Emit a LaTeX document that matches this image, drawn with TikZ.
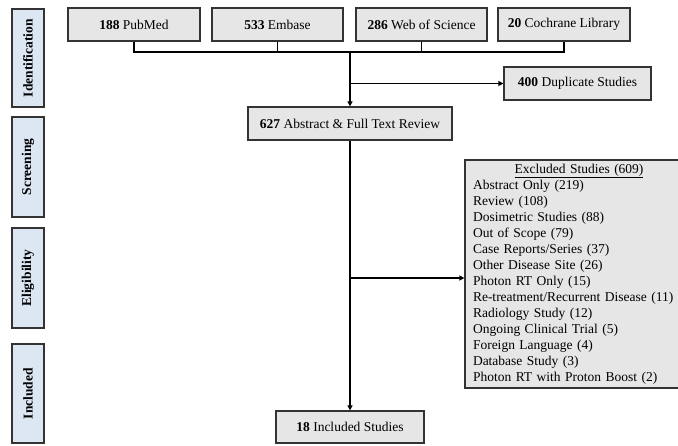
\documentclass[tikz,border=0pt]{standalone}
\usepackage{fontspec}
\setmainfont{Liberation Serif}
\usetikzlibrary{arrows.meta,positioning}
\definecolor{stagefill}{HTML}{DDE7F3}
\definecolor{boxfill}{HTML}{E6E6E6}
\definecolor{boxline}{HTML}{333333}

\begin{document}
\begin{tikzpicture}[x=1pt, y=-1pt,
    stagebox/.style={draw=boxline, fill=stagefill, line width=1.2pt, rotate=90,
        minimum height=32pt, font=\fontsize{13.5}{15}\selectfont\bfseries},
    flowbox/.style={draw=boxline, fill=boxfill, line width=1.2pt, minimum height=33pt,
        font=\fontsize{13.5}{15}\selectfont},
    link/.style={line width=1.3pt, black},
    arr/.style={link, -{Triangle[length=5pt, width=5pt]}}]

    \useasboundingbox (0,0) rectangle (678,445);

    % --- Stage labels (left) ---
    \node[stagebox, minimum width=98pt]  (idf) at (28,58)    {Identification};
    \node[stagebox, minimum width=100pt] (scr) at (28,167)   {Screening};
    \node[stagebox, minimum width=100pt] (elg) at (28,278)   {Eligibility};
    \node[stagebox, minimum width=99pt]  (inc) at (28,393.5) {Included};

    % --- Databases (top row) ---
    \node[flowbox, minimum width=132pt] (pub)  at (134,24.5)   {\textbf{188} PubMed};
    \node[flowbox, minimum width=131pt] (emb)  at (277.5,24.5) {\textbf{533} Embase};
    \node[flowbox, minimum width=131pt] (wos)  at (421.5,24.5) {\textbf{286} Web of Science};
    \node[flowbox, minimum width=132pt] (coch) at (564,24.5)   {\textbf{20} Cochrane Library};

    % bracket joining the four sources
    \coordinate (join) at (350,52);
    \draw[link] (pub.south) -- (pub.south |- join) -- (coch.south |- join) -- (coch.south);
    \draw[link] (emb.south) -- (emb.south |- join);
    \draw[link] (wos.south) -- (wos.south |- join);

    % --- Duplicates and review ---
    \node[flowbox, minimum width=147pt] (dup) at (577.5,83.5) {\textbf{400} Duplicate Studies};
    \node[flowbox, minimum width=204pt] (abs) at (350,123.5) {\textbf{627} Abstract \& Full Text Review};
    \draw[arr] (join) -- (abs.north);
    \draw[arr] (join |- dup.west) -- (dup.west);

    % --- Exclusions (runs past the right edge) ---
    \node[flowbox, minimum width=228pt, minimum height=228pt, text width=212pt,
          align=left, inner xsep=8pt, font=\fontsize{13.5}{16}\selectfont]
          (exc) at (579,274) {%
        \hfill\underline{Excluded Studies (609)}\hfill\null\\
        Abstract Only (219)\\
        Review (108)\\
        Dosimetric Studies (88)\\
        Out of Scope (79)\\
        Case Reports/Series (37)\\
        Other Disease Site (26)\\
        Photon RT Only (15)\\
        Re-treatment/Recurrent Disease (11)\\
        Radiology Study (12)\\
        Ongoing Clinical Trial (5)\\
        Foreign Language (4)\\
        Database Study (3)\\
        Photon RT with Proton Boost (2)};

    % --- Final set ---
    \node[flowbox, minimum width=148pt, minimum height=32pt] (incl) at (350,427) {\textbf{18} Included Studies};
    \draw[arr] (abs.south) -- (incl.north);
    \draw[arr] (abs.south |- 0,278) -- (exc.west |- 0,278);

\end{tikzpicture}
\end{document}
